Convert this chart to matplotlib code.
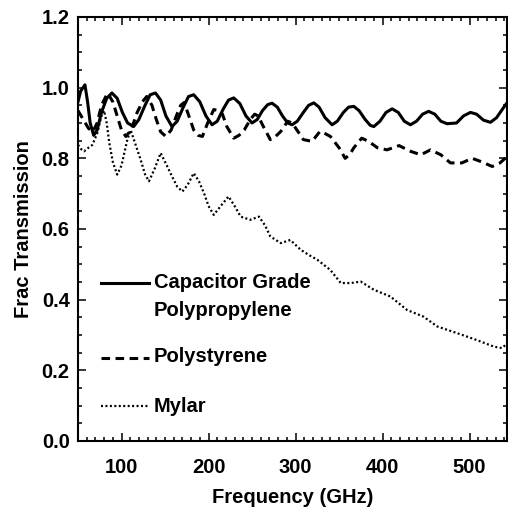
import matplotlib
matplotlib.use("Agg")
import matplotlib.pyplot as plt
from matplotlib.ticker import MultipleLocator

# ---- data ----
pp_freq = [50, 53, 58, 61, 64, 68, 72, 77, 83, 89, 95, 101, 107, 114, 120, 127, 133, 139,
           145, 151, 158, 164, 171, 177, 183, 190, 197, 204, 210, 217, 223, 229, 236, 243,
           250, 256, 262, 268, 273, 279, 285, 291, 296, 302, 309, 315, 321, 327, 334, 342,
           348, 355, 361, 367, 373, 380, 386, 390, 397, 404, 411, 418, 425, 432, 439, 446,
           453, 460, 467, 474, 485, 493, 501, 508, 516, 524, 531, 538, 543]
pp_trans = [0.96, 0.99, 1.008, 0.96, 0.90, 0.865, 0.88, 0.93, 0.97, 0.985, 0.97, 0.93, 0.90,
            0.89, 0.91, 0.95, 0.98, 0.985, 0.965, 0.92, 0.89, 0.905, 0.945, 0.975, 0.98,
            0.96, 0.92, 0.895, 0.905, 0.94, 0.965, 0.971, 0.955, 0.92, 0.90, 0.91, 0.935,
            0.952, 0.956, 0.945, 0.92, 0.90, 0.895, 0.905, 0.93, 0.95, 0.957, 0.945, 0.915,
            0.895, 0.905, 0.93, 0.945, 0.947, 0.935, 0.91, 0.893, 0.89, 0.905, 0.93, 0.94,
            0.93, 0.905, 0.895, 0.905, 0.925, 0.933, 0.925, 0.905, 0.898, 0.90, 0.92, 0.93,
            0.925, 0.908, 0.902, 0.915, 0.94, 0.957]

ps_freq = [50, 56, 62, 67, 72, 77, 84, 90, 95, 100, 105, 111, 118, 124, 129, 135, 140, 145,
           151, 157, 163, 168, 172, 176, 183, 188, 193, 199, 206, 212, 216, 221, 229, 235,
           241, 248, 253, 257, 263, 271, 277, 283, 291, 296, 300, 309, 319, 328, 334, 340,
           350, 357, 362, 367, 376, 384, 394, 405, 419, 432, 444, 455, 467, 478, 491, 503,
           514, 526, 535, 543]
ps_trans = [0.935, 0.91, 0.885, 0.875, 0.90, 0.95, 0.985, 0.96, 0.92, 0.88, 0.862, 0.88,
            0.93, 0.96, 0.975, 0.95, 0.91, 0.875, 0.862, 0.88, 0.92, 0.95, 0.958, 0.93,
            0.88, 0.865, 0.862, 0.90, 0.938, 0.935, 0.925, 0.89, 0.857, 0.865, 0.88, 0.91,
            0.925, 0.92, 0.89, 0.853, 0.862, 0.876, 0.905, 0.90, 0.886, 0.853, 0.848, 0.876,
            0.87, 0.862, 0.83, 0.80, 0.81, 0.83, 0.857, 0.848, 0.83, 0.824, 0.836, 0.82,
            0.81, 0.824, 0.81, 0.787, 0.787, 0.80, 0.79, 0.777, 0.787, 0.805]

my_freq = [50, 54, 57, 62, 66.5, 72, 77, 80, 83, 86, 90, 95, 100, 106.7, 110.5, 116, 122,
           127, 131.5, 138, 145, 152, 158, 164, 170, 176, 183, 189, 195, 200, 206, 214,
           223, 230, 237, 248, 258, 265, 271, 283, 294, 306, 315, 325, 340, 352, 363, 375,
           390, 409, 428, 447, 463, 486, 508, 528, 537, 543]
my_trans = [0.838, 0.825, 0.82, 0.83, 0.838, 0.87, 0.92, 0.935, 0.90, 0.843, 0.79, 0.754,
            0.78, 0.853, 0.88, 0.84, 0.796, 0.755, 0.735, 0.77, 0.815, 0.78, 0.749, 0.72,
            0.706, 0.725, 0.758, 0.735, 0.70, 0.665, 0.64, 0.665, 0.692, 0.665, 0.635,
            0.626, 0.635, 0.61, 0.579, 0.56, 0.569, 0.541, 0.527, 0.513, 0.484, 0.447,
            0.447, 0.451, 0.428, 0.409, 0.371, 0.352, 0.324, 0.305, 0.286, 0.267, 0.263,
            0.275]

labels = ["Capacitor Grade\nPolypropylene", "Polystyrene", "Mylar"]
x_ticks = [100, 200, 300, 400, 500]
y_ticks = [0.0, 0.2, 0.4, 0.6, 0.8, 1.0, 1.2]

# ---- style ----
FONT = ['Liberation Sans', 'DejaVu Sans']
plt.rcParams['font.family'] = FONT
plt.rcParams['font.weight'] = 'bold'
plt.rcParams['font.size'] = 14.5

fig = plt.figure(figsize=(5.08, 5.13), dpi=100)
ax = fig.add_axes([78/508, 1 - 441/513, 429/508, 424/513])

solid_style = dict(color='black', lw=2.2, linestyle='-')
dash_style = dict(color='black', lw=2.2, linestyle=(0, (2.8, 1.8)))
dot_style = dict(color='black', lw=1.6, linestyle=(0, (0.9, 1.1)))

ax.plot(pp_freq, pp_trans, **solid_style)
ax.plot(ps_freq, ps_trans, **dash_style)
ax.plot(my_freq, my_trans, **dot_style)

ax.set_xlim(50, 543)
ax.set_ylim(0, 1.2)
ax.set_xticks(x_ticks)
ax.set_yticks(y_ticks)
ax.set_yticklabels([f"{v:.1f}" for v in y_ticks])
ax.xaxis.set_minor_locator(MultipleLocator(10))
ax.yaxis.set_minor_locator(MultipleLocator(0.05))
ax.tick_params(which='both', direction='in', top=True, right=True, width=1.1)
ax.tick_params(which='major', length=6)
ax.tick_params(which='minor', length=3)
ax.tick_params(axis='x', which='major', pad=12)
ax.tick_params(axis='y', which='major', pad=6)
for sp in ax.spines.values():
    sp.set_linewidth(1.5)

ax.set_xlabel("Frequency (GHz)", fontweight='bold', labelpad=8)
ax.set_ylabel("Frac Transmission", fontweight='bold', labelpad=6)

# ---- manual legend (axes fraction) ----
def ax_fx(px):
    return (px - 77.3) / 429.7

def ax_fy(py):
    return (441 - py) / 424

hx0, hx1, tx = ax_fx(100), ax_fx(148), ax_fx(153)
ax.plot([hx0, hx1], [ax_fy(283)] * 2, transform=ax.transAxes, **solid_style)
ax.text(tx, ax_fy(283), "Capacitor Grade", transform=ax.transAxes, va='center', ha='left', fontweight='bold')
ax.text(tx, ax_fy(311), "Polypropylene", transform=ax.transAxes, va='center', ha='left', fontweight='bold')
ax.plot([hx0, hx1], [ax_fy(358)] * 2, transform=ax.transAxes, **dash_style)
ax.text(tx, ax_fy(357), labels[1], transform=ax.transAxes, va='center', ha='left', fontweight='bold')
ax.plot([hx0, hx1], [ax_fy(406)] * 2, transform=ax.transAxes, **dot_style)
ax.text(tx, ax_fy(407), labels[2], transform=ax.transAxes, va='center', ha='left', fontweight='bold')

fig.savefig("out.png", dpi=100)
